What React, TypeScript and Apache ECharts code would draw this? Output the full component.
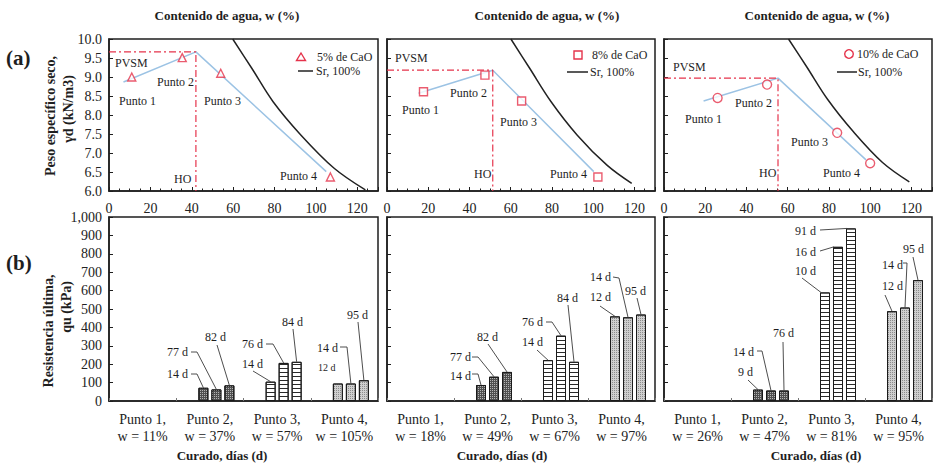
import React, { useEffect, useRef } from "react";
import * as echarts from "echarts";

// ---------------- DATA ----------------
const limeNames = ["5% de CaO", "8% de CaO", "10% de CaO"];
const satName = "Sr, 100%";

// compaction test points [w %, dry unit weight kN/m3]
const points5 = [[11, 9.0], [35.4, 9.51], [54, 9.1], [107, 6.37]];
const points8 = [[17.7, 8.61], [47.5, 9.05], [65.3, 8.37], [102.3, 6.37]];
const points10 = [[26, 8.45], [50, 8.8], [84, 7.53], [100, 6.73]];

// fitted compaction curves
const fit5 = [[7, 8.87], [42, 9.66], [105, 6.51]];
const fit8 = [[15.3, 8.57], [51.3, 9.18], [100.3, 6.51]];
const fit10 = [[19.2, 8.37], [55.3, 8.97], [98, 6.82]];

// zero air voids (Sr = 100 %) curves
const sat5 = [[59.8, 10.0], [69.0, 9.23], [79.3, 8.35], [92.8, 7.47], [108.8, 6.6], [123.9, 6.03]];
const sat8 = [[60.1, 10.0], [69.2, 9.23], [79.6, 8.35], [92.3, 7.47], [106.7, 6.68], [118.7, 6.2]];
const sat10 = [[60.4, 10.0], [69.2, 9.27], [79.5, 8.4], [92.0, 7.55], [106.0, 6.75], [119.0, 6.24]];

// maximum dry unit weight (PVSM) and optimum moisture (HO)
const pvsm = [9.66, 9.18, 8.97];
const ho = [42, 51.3, 55.3];

const wTicks = { min: 0, max: 130, interval: 20 };
const gammaTicks = { min: 6, max: 10, interval: 0.5 };
const quTicks = { min: 0, max: 1000, interval: 100 };

const categories5 = ["Punto 1,\nw = 11%", "Punto 2,\nw = 37%", "Punto 3,\nw = 57%", "Punto 4,\nw = 105%"];
const categories8 = ["Punto 1,\nw = 18%", "Punto 2,\nw = 49%", "Punto 3,\nw = 67%", "Punto 4,\nw = 97%"];
const categories10 = ["Punto 1,\nw = 26%", "Punto 2,\nw = 47%", "Punto 3,\nw = 81%", "Punto 4,\nw = 95%"];

// unconfined strength qu (kPa), first / second / third curing bar of each point
const qu5A = [null, 72, 105, 95];
const qu5B = [null, 63, 207, 95];
const qu5C = [null, 85, 213, 113];
const qu8A = [null, 87, 222, 460];
const qu8B = [null, 132, 355, 455];
const qu8C = [null, 158, 213, 470];
const qu10A = [null, 62, 590, 488];
const qu10B = [null, 57, 838, 508];
const qu10C = [null, 57, 938, 657];

// curing days labels
const days5A = [null, "14 d", "14 d", "12 d"];
const days5B = [null, "77 d", "76 d", "14 d"];
const days5C = [null, "82 d", "84 d", "95 d"];
const days8A = [null, "14 d", "14 d", "12 d"];
const days8B = [null, "77 d", "76 d", "14 d"];
const days8C = [null, "82 d", "84 d", "95 d"];
const days10A = [null, "9 d", "10 d", "12 d"];
const days10B = [null, "14 d", "16 d", "14 d"];
const days10C = [null, "76 d", "91 d", "95 d"];

// ---------------- LAYOUT ----------------
const FONT = '"Liberation Serif", "Times New Roman", serif';
const COLS = [
  { left: 109, width: 269 },
  { left: 387, width: 268 },
  { left: 664, width: 268 },
];
const TOP = { top: 39, height: 152 };
const BOT = { top: 217, height: 184 };
const AX = "#1e1e1e";
const RED = "#e5334b";
const BLUE = "#9cc3e4";

const pointsAll = [points5, points8, points10];
const fitAll = [fit5, fit8, fit10];
const satAll = [sat5, sat8, sat10];
const catsAll = [categories5, categories8, categories10];
const quAll = [[qu5A, qu5B, qu5C], [qu8A, qu8B, qu8C], [qu10A, qu10B, qu10C]];
const daysAll = [[days5A, days5B, days5C], [days8A, days8B, days8C], [days10A, days10B, days10C]];
const symbols = ["triangle", "rect", "circle"];
const symbolSizes = [8, 8, 9];

const titleX = [227, 547, 817];
const curadoX = [222, 502, 816];

// manual legend layout: marker centre, marker text x, line x0..x1, line y, line text x
const legendLayout = [
  { mx: 301, my: 57, tx: 317, lx0: 298, lx1: 313, ly: 71, ltx: 316 },
  { mx: 578, my: 55, tx: 592, lx0: 567, lx1: 588, ly: 72, ltx: 590 },
  { mx: 849, my: 54, tx: 857, lx0: 837, lx1: 857, ly: 72, ltx: 858 },
];

// point labels inside upper panels: [text, x, y]
const topLabels: [string, number, number][][] = [
  [["PVSM", 115, 63], ["Punto 1", 119, 101], ["Punto 2", 157, 82], ["Punto 3", 204, 101], ["HO", 174, 179], ["Punto 4", 280, 176]],
  [["PVSM", 395, 58], ["Punto 1", 402, 110], ["Punto 2", 450, 93], ["Punto 3", 500, 122], ["HO", 474, 174], ["Punto 4", 550, 174]],
  [["PVSM", 673, 67], ["Punto 1", 685, 119], ["Punto 2", 735, 103], ["Punto 3", 791, 142], ["HO", 759, 173], ["Punto 4", 823, 173]],
];

type Ann = { t: [number, number]; p: [number, number][]; dx?: number; small?: boolean };
// annotation layout [panel][category-1][slot-1]
const annLayout: Ann[][][] = [
  [
    [{ t: [167, 374], p: [[191, 374], [197, 374]] }, { t: [167, 352], p: [[191, 352], [197, 352]] }, { t: [205, 337], p: [[217, 345]] }],
    [{ t: [242, 364], p: [[253, 371]] }, { t: [242, 344], p: [[266, 344], [273, 344]] }, { t: [282, 322], p: [[293, 329]] }],
    [{ t: [318, 367], p: [], small: true }, { t: [317, 348], p: [[340, 347], [347, 347]] }, { t: [347, 315], p: [[358, 322]] }],
  ],
  [
    [{ t: [450, 376], p: [[472, 374], [478, 374]] }, { t: [450, 357], p: [[472, 357], [478, 357]] }, { t: [477, 337], p: [[488, 344]] }],
    [{ t: [522, 342], p: [[537, 350]] }, { t: [522, 322], p: [[546, 322], [552, 322]] }, { t: [557, 298], p: [[568, 305]] }],
    [{ t: [590, 297], p: [[600, 306]] }, { t: [590, 277], p: [[613, 277], [619, 278]] }, { t: [625, 291], p: [[637, 298]] }],
  ],
  [
    [{ t: [738, 372], p: [[748, 380]] }, { t: [733, 352], p: [[757, 351], [762, 351]] }, { t: [773, 333], p: [[783, 342]] }],
    [{ t: [795, 271], p: [[802, 278]], dx: -4 }, { t: [795, 252], p: [[820, 251]], dx: -4 }, { t: [795, 231], p: [[820, 230]], dx: -4 }],
    [{ t: [882, 286], p: [[885, 295]] }, { t: [882, 265], p: [[903, 263], [907, 263]] }, { t: [903, 249], p: [[913, 257]] }],
  ],
];

const BAR_W = 10;
const slotOffset = (s: number) => -19.5 + 13 * s;

const barStyles = [
  null,
  {
    color: "#505050",
    borderColor: "#1a1a1a",
    borderWidth: 1,
    decal: { symbol: "rect", symbolSize: 1, color: "#b4b4b4", dashArrayX: [1, 1], dashArrayY: [1, 1] },
  },
  {
    color: "#ffffff",
    borderColor: "#1a1a1a",
    borderWidth: 1,
    decal: { symbol: "rect", symbolSize: 1, color: "#2a2a2a", dashArrayX: [1, 0], dashArrayY: [1, 2.5] },
  },
  {
    color: "#cfcfcf",
    borderColor: "#1a1a1a",
    borderWidth: 1,
    decal: { symbol: "rect", symbolSize: 1, color: "#8c8c8c", dashArrayX: [1, 1], dashArrayY: [1, 1] },
  },
];

function buildOption() {
  const grid: any[] = [];
  const xAxis: any[] = [];
  const yAxis: any[] = [];
  const series: any[] = [];

  for (let g = 0; g < 3; g++) {
    grid.push({ left: COLS[g].left, width: COLS[g].width, top: TOP.top, height: TOP.height, show: true, borderColor: AX, borderWidth: 1.5, backgroundColor: "#fff" });
  }
  for (let g = 0; g < 3; g++) {
    grid.push({ left: COLS[g].left, width: COLS[g].width, top: BOT.top, height: BOT.height, show: true, borderColor: AX, borderWidth: 1.5, backgroundColor: "#fff" });
  }

  for (let g = 0; g < 3; g++) {
    xAxis.push({
      type: "value",
      gridIndex: g,
      min: wTicks.min,
      max: wTicks.max,
      interval: wTicks.interval,
      axisLine: { show: true, lineStyle: { color: AX, width: 1.5 } },
      axisTick: { show: true, inside: true, length: 4, lineStyle: { color: AX } },
      minorTick: { show: true, splitNumber: 4, length: 2.5, lineStyle: { color: AX } },
      splitLine: { show: false },
      axisLabel: { show: true, showMaxLabel: false, fontFamily: FONT, fontSize: 14, color: "#222", margin: 10 },
    });
    yAxis.push({
      type: "value",
      gridIndex: g,
      min: gammaTicks.min,
      max: gammaTicks.max,
      interval: gammaTicks.interval,
      axisLine: { show: true, lineStyle: { color: AX, width: 1.5 } },
      axisTick: { show: true, inside: true, length: 4, lineStyle: { color: AX } },
      splitLine: { show: false },
      axisLabel: { show: g === 0, fontFamily: FONT, fontSize: 14, color: "#222", margin: 7, formatter: (v: number) => v.toFixed(1) },
    });
  }
  for (let g = 0; g < 3; g++) {
    xAxis.push({
      type: "category",
      gridIndex: 3 + g,
      data: catsAll[g],
      axisLine: { show: true, lineStyle: { color: AX, width: 1.5 } },
      axisTick: { show: true, inside: true, length: 3, lineStyle: { color: "#777" } },
      splitLine: { show: false },
      axisLabel: { interval: 0, fontFamily: FONT, fontSize: 14, lineHeight: 17, color: "#222", margin: 10 },
    });
    yAxis.push({
      type: "value",
      gridIndex: 3 + g,
      min: quTicks.min,
      max: quTicks.max,
      interval: quTicks.interval,
      axisLine: { show: true, lineStyle: { color: AX, width: 1.5 } },
      axisTick: { show: true, inside: true, length: 4, lineStyle: { color: AX } },
      splitLine: { show: false },
      axisLabel: { show: g === 0, fontFamily: FONT, fontSize: 14, color: "#222", margin: 7, formatter: (v: number) => v.toLocaleString("en-US") },
    });
  }

  // upper panels
  for (let g = 0; g < 3; g++) {
    series.push({
      type: "line",
      name: "fit" + g,
      xAxisIndex: g,
      yAxisIndex: g,
      data: fitAll[g],
      symbol: "none",
      lineStyle: { color: BLUE, width: 1.5 },
      z: 2,
      silent: true,
    });
    series.push({
      type: "line",
      name: satName,
      xAxisIndex: g,
      yAxisIndex: g,
      data: satAll[g],
      smooth: 0.35,
      symbol: "none",
      lineStyle: { color: "#222", width: 1.5 },
      itemStyle: { color: "#222" },
      z: 3,
    });
    series.push({
      type: "line",
      name: "opt" + g,
      xAxisIndex: g,
      yAxisIndex: g,
      data: [[wTicks.min, pvsm[g]], [ho[g], pvsm[g]], [ho[g], gammaTicks.min]],
      symbol: "none",
      lineStyle: { color: RED, width: 1.2, type: [7, 3, 2, 3] },
      z: 2,
      silent: true,
    });
    series.push({
      type: "scatter",
      name: limeNames[g],
      xAxisIndex: g,
      yAxisIndex: g,
      data: pointsAll[g],
      symbol: symbols[g],
      symbolSize: symbolSizes[g],
      itemStyle: { color: "#ffffff", borderColor: RED, borderWidth: 1.4 },
      z: 5,
    });
  }

  // lower panels
  for (let g = 0; g < 3; g++) {
    series.push({
      type: "bar",
      name: "blank" + g,
      xAxisIndex: 3 + g,
      yAxisIndex: 3 + g,
      data: [null, null, null, null],
      barWidth: BAR_W,
      barGap: "30%",
    });
    for (let s = 0; s < 3; s++) {
      const vals = quAll[g][s];
      series.push({
        type: "bar",
        name: "qu" + g + "_" + s,
        xAxisIndex: 3 + g,
        yAxisIndex: 3 + g,
        barWidth: BAR_W,
        barGap: "30%",
        data: vals.map((v, c) => (v == null ? null : { value: v, itemStyle: barStyles[c] })),
      });
    }
  }

  return {
    animation: false,
    backgroundColor: "#ffffff",
    textStyle: { fontFamily: FONT },
    grid,
    xAxis,
    yAxis,
    series,
  };
}

function txt(text: string, x: number, y: number, font: string, align = "left", extra: any = {}) {
  return {
    type: "text",
    x,
    y,
    silent: true,
    z: 50,
    ...extra,
    style: { text, font, fill: "#1e1e1e", align, verticalAlign: "middle", textAlign: align, textVerticalAlign: "middle" },
  };
}

function legendMarker(g: number, cx: number, cy: number) {
  const st = { fill: "#ffffff", stroke: RED, lineWidth: 1.4 };
  if (g === 0) {
    return { type: "polygon", z: 50, silent: true, shape: { points: [[cx, cy - 4], [cx + 4.5, cy + 3.5], [cx - 4.5, cy + 3.5]] }, style: st };
  }
  if (g === 1) {
    return { type: "rect", z: 50, silent: true, shape: { x: cx - 4, y: cy - 4, width: 8, height: 8 }, style: st };
  }
  return { type: "circle", z: 50, silent: true, shape: { cx, cy, r: 4.3 }, style: st };
}

export default function App() {
  const ref = useRef<HTMLDivElement>(null);
  useEffect(() => {
    if (!ref.current) return;
    const chart = echarts.init(ref.current, undefined, { renderer: "svg" });
    chart.setOption(buildOption() as any);

    const els: any[] = [];
    const bold13 = `bold 13px ${FONT}`;
    for (let g = 0; g < 3; g++) {
      els.push(txt("Contenido de agua, w (%)", titleX[g], 15, bold13, "center"));
      els.push(txt("Curado, días (d)", curadoX[g], 455, bold13, "center"));
      for (const [t, x, y] of topLabels[g]) els.push(txt(t, x, y, `12px ${FONT}`, "left"));
      const L = legendLayout[g];
      els.push(legendMarker(g, L.mx, L.my));
      els.push(txt(limeNames[g], L.tx, L.my, `12px ${FONT}`, "left"));
      els.push({ type: "line", z: 50, silent: true, shape: { x1: L.lx0, y1: L.ly, x2: L.lx1, y2: L.ly }, style: { stroke: "#222", lineWidth: 1.5 } });
      els.push(txt(satName, L.ltx, L.ly, `12px ${FONT}`, "left"));
    }
    els.push(txt("(a)", 6, 58, `bold 21px ${FONT}`, "left"));
    els.push(txt("(b)", 6, 263, `bold 21px ${FONT}`, "left"));
    els.push(txt("Peso específico seco,", 50, 116, `bold 14px ${FONT}`, "center", { rotation: Math.PI / 2 }));
    els.push(txt("γd (kN/m3)", 68, 109, `bold 14px ${FONT}`, "center", { rotation: Math.PI / 2 }));
    els.push(txt("Resistencia última,", 48, 331, `bold 14px ${FONT}`, "center", { rotation: Math.PI / 2 }));
    els.push(txt("qu (kPa)", 66, 307, `bold 14px ${FONT}`, "center", { rotation: Math.PI / 2 }));

    for (let g = 0; g < 3; g++) {
      for (let c = 1; c <= 3; c++) {
        for (let s = 1; s <= 3; s++) {
          const v = quAll[g][s - 1][c];
          const label = daysAll[g][s - 1][c];
          const lay = annLayout[g][c - 1][s - 1];
          if (v == null || !label || !lay) continue;
          const p = chart.convertToPixel({ xAxisIndex: 3 + g, yAxisIndex: 3 + g } as any, [c, v]) as number[];
          const bx = p[0] + slotOffset(s) + (lay.dx || 0);
          const by = p[1];
          els.push(txt(label, lay.t[0], lay.t[1], `${lay.small ? 10 : 12}px ${FONT}`, "left"));
          if (lay.p.length) {
            els.push({
              type: "polyline",
              silent: true,
              z: 40,
              shape: { points: [...lay.p, [bx, by]] },
              style: { stroke: "#3a3a3a", lineWidth: 0.9, fill: null },
            });
          }
        }
      }
    }
    chart.setOption({ graphic: els } as any);

    return () => chart.dispose();
  }, []);
  return <div ref={ref} style={{ position: "fixed", left: 0, top: 0, width: 934, height: 463, background: "#fff" }} />;
}
